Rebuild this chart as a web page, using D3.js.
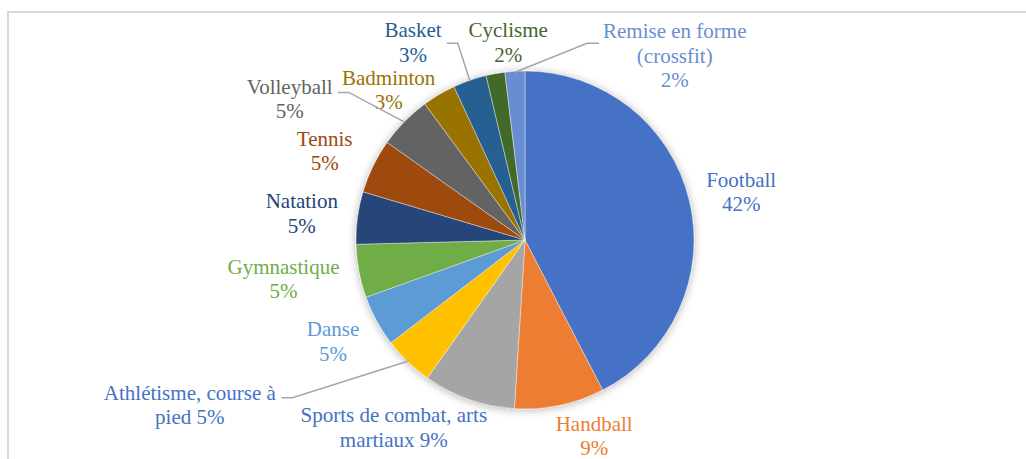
<!DOCTYPE html>
<html>
<head>
<meta charset="utf-8">
<script src="https://cdn.jsdelivr.net/npm/d3@7"></script>
<style>
  html, body { margin: 0; padding: 0; background: #ffffff; }
  svg { display: block; }
  svg text { font-family: "Liberation Serif", "Times New Roman", Times, "Tinos", "Noto Serif", "DejaVu Serif", "Nimbus Roman", "Nimbus Roman No9 L", "FreeSerif", "Noto Serif CJK SC", serif; }
</style>
</head>
<body>
<svg id="chart" width="1026" height="459"></svg>
<script>
// ---- data ----
const categories = ["Football", "Handball", "Sports de combat, arts martiaux", "Athlétisme, course à pied",
  "Danse", "Gymnastique", "Natation", "Tennis", "Volleyball", "Badminton", "Basket", "Cyclisme",
  "Remise en forme (crossfit)"];
const values = [42.4, 8.6, 8.8, 4.8, 4.9, 5.1, 5.0, 5.2, 5.1, 3.2, 3.2, 1.8, 1.9];
// text of each data label (name part), split in lines as shown
const labelNameLines = [
  ["Football"], ["Handball"], ["Sports de combat, arts", "martiaux"], ["Athlétisme, course à", "pied"],
  ["Danse"], ["Gymnastique"], ["Natation"], ["Tennis"], ["Volleyball"], ["Badminton"], ["Basket"],
  ["Cyclisme"], ["Remise en forme", "(crossfit)"]
];
// whether the percentage shares the last text line
const pctInline = [false, false, true, true, false, false, false, false, false, false, false, false, false];

// ---- style ----
const sliceColors = ["#4472C4", "#ED7D31", "#A5A5A5", "#FFC000", "#5B9BD5", "#70AD47", "#264478",
  "#9E480E", "#636363", "#997300", "#255E91", "#43682B", "#698ED0"];
const labelColors = ["#4472C4", "#ED7D31", "#4472C4", "#4472C4", "#5B9BD5", "#70AD47", "#264478",
  "#9E480E", "#636363", "#997300", "#255E91", "#43682B", "#698ED0"];
// label nudges relative to the mid-angle anchor point
const labelNudge = [[17, 0], [27, -5], [-63, -6], [-193, 17], [-12, 3], [-40, 1], [-20, 0], [-16, 0],
  [-89, 2], [-32, 26], [-45, -4], [19, 4], [162, 20]];
// leader lines: null = none; otherwise side of the label it touches and y offset
const leaders = [null, null, null, {side: "right", dy: -7}, null, null, null, null,
  {side: "right", dy: -6}, null, {side: "right", dy: 1}, null, {side: "left", dy: -12}];

const W = 1026, H = 459;
const cx = 525, cy = 240, R = 169, labelR = 205;
const fontSize = 21, lineH = 24.5;

const svg = d3.select("#chart");
const defs = svg.append("defs");
const f = defs.append("filter").attr("id", "shadow")
  .attr("x", "-20%").attr("y", "-20%").attr("width", "140%").attr("height", "140%");
f.append("feDropShadow").attr("dx", 0).attr("dy", 1).attr("stdDeviation", 4)
  .attr("flood-color", "#000").attr("flood-opacity", 0.3);

// frame
svg.append("rect").attr("x", 8).attr("y", 12).attr("width", W + 20).attr("height", H + 20)
  .attr("fill", "none").attr("stroke", "#d9d9d9").attr("stroke-width", 2);

const data = categories.map((c, i) => ({name: c, value: values[i], i}));
const pie = d3.pie().sort(null).value(d => d.value).startAngle(0).endAngle(2 * Math.PI);
const arcs = pie(data);
const arc = d3.arc().innerRadius(0).outerRadius(R);

const g = svg.append("g").attr("transform", `translate(${cx},${cy})`);
const slices = g.append("g").attr("filter", "url(#shadow)");
slices.selectAll("path").data(arcs).join("path")
  .attr("d", arc)
  .attr("fill", d => sliceColors[d.data.i])
  .attr("stroke", "#ffffff").attr("stroke-width", 0.4);

const total = d3.sum(values);
const fmt = v => Math.round(v / total * 100) + "%";

const labels = g.append("g").style("font-size", fontSize + "px");

arcs.forEach(a => {
  const i = a.data.i;
  const mid = (a.startAngle + a.endAngle) / 2;
  const ax = Math.sin(mid) * labelR + labelNudge[i][0];
  const ay = -Math.cos(mid) * labelR + labelNudge[i][1];
  let lines = labelNameLines[i].slice();
  if (pctInline[i]) lines[lines.length - 1] += " " + fmt(a.data.value);
  else lines.push(fmt(a.data.value));
  const n = lines.length;
  const t = labels.append("text").attr("text-anchor", "middle").attr("fill", labelColors[i]);
  lines.forEach((ln, k) => {
    t.append("tspan").attr("x", ax).attr("y", ay + (k - (n - 1) / 2) * lineH)
      .attr("dy", "0.35em").text(ln);
  });
  const ld = leaders[i];
  if (ld) {
    const bb = t.node().getBBox();
    const ex = ld.side === "right" ? bb.x + bb.width + 5 : bb.x - 4;
    const kx = ld.side === "right" ? ex + 11 : ex - 12;
    const ey = ay + ld.dy;
    const sx = Math.sin(mid) * (R - 1), sy = -Math.cos(mid) * (R - 1);
    g.append("polyline")
      .attr("points", [[sx, sy], [kx, ey], [ex, ey]].map(p => p.join(",")).join(" "))
      .attr("fill", "none").attr("stroke", "#a6a6a6").attr("stroke-width", 1.5);
  }
});
</script>
</body>
</html>
